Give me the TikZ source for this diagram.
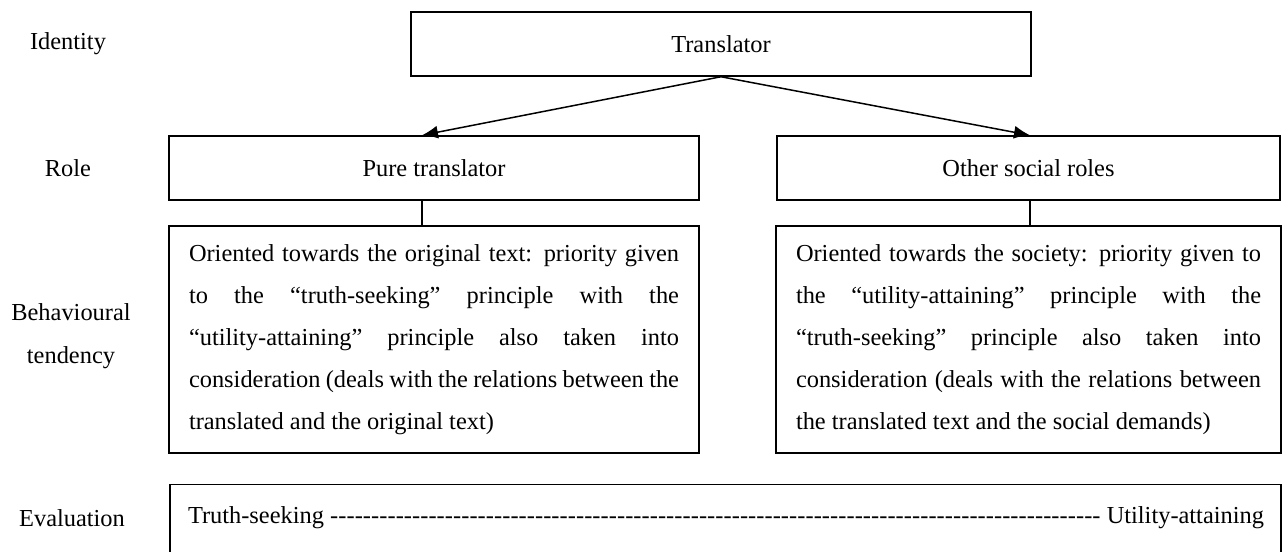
\documentclass[tikz,border=0pt]{standalone}
\usepackage{fontspec}
\setmainfont{Liberation Serif}
\usetikzlibrary{positioning,arrows.meta}

\tikzset{
  box/.style={draw,line width=0.75pt,inner sep=0pt,minimum height=32pt},
  para/.style={draw,line width=0.75pt,inner xsep=10pt,inner ysep=0pt,
    align=justify,minimum height=113.5pt,font=\fontsize{12.2}{21}\selectfont},
  lbl/.style={align=center,font=\fontsize{12.2}{21.5}\selectfont},
  arr/.style={-{Latex[length=8pt,width=6.5pt]},line width=0.75pt}
}

\begin{document}
\begin{tikzpicture}[x=1pt,y=1pt,font=\fontsize{12.2}{15}\selectfont]
\useasboundingbox (0,0) rectangle (641,276);
\clip (0,0) rectangle (641,276);
% row labels
\node[lbl] (identity) at (34,254) {Identity};
\node[lbl] (role) at (34,192) {Role};
\node[lbl] (tendency) at (35.5,108) {Behavioural\\tendency};
\node[lbl] (evaluation) at (36,17) {Evaluation};
% boxes
\node[box,minimum width=310pt] (trans) at (360.5,254) {Translator};
\node[box,minimum width=265pt] (pure) at (217,192) {Pure translator};
\node[box,minimum width=251.5pt] (other) at (514.25,192) {Other social roles};
\node[para,text width=245pt] (lbeh) at (217,106.25)
  {Oriented towards the original text: priority given\linebreak
   to the ``truth-seeking'' principle with the\linebreak
   ``utility-attaining'' principle also taken into\linebreak
   consideration (deals with the relations between the\linebreak
   translated and the original text)};
\node[para,text width=232.5pt] (rbeh) at (514.25,106.25)
  {Oriented towards the society: priority given to\linebreak
   the ``utility-attaining'' principle with the\linebreak
   ``truth-seeking'' principle also taken into\linebreak
   consideration (deals with the relations between\linebreak
   the translated text and the social demands)};
\node[box,anchor=north west,minimum width=555.5pt,minimum height=60pt] (eval) at (84.5,34) {};
\node (scale) at (363,17)
  {\makebox[538pt]{Truth-seeking \xleaders\hbox{-}\hfill\ Utility-attaining}};
% connectors
\coordinate (pl) at (211,0);
\coordinate (pr) at (515,0);
\draw[arr] (trans.south) -- (pure.north -| pl);
\draw[arr] (trans.south) -- (other.north -| pr);
\draw[line width=0.75pt] (pure.south -| pl) -- (lbeh.north -| pl);
\draw[line width=0.75pt] (other.south -| pr) -- (rbeh.north -| pr);
\end{tikzpicture}
\end{document}
